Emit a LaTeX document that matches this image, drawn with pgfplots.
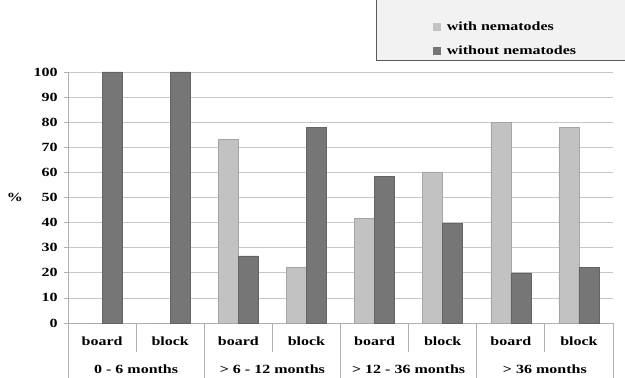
\documentclass[border=0pt]{standalone}
\usepackage{pgfplots}
\pgfplotsset{compat=1.18}
\usepackage{fontspec}
\setmainfont{Liberation Serif}[FakeStretch=1.28]
\definecolor{lightbar}{HTML}{C2C2C2}
\definecolor{darkbar}{HTML}{767676}
\definecolor{gridc}{HTML}{C8C8C8}
\definecolor{axc}{HTML}{B0B0B0}
\begin{document}
\fontsize{12.5bp}{15bp}\selectfont\bfseries
\begin{tikzpicture}
\begin{axis}[
  at={(0,0)}, anchor=south west,
  scale only axis, width=545bp, height=251bp,
  xmin=-0.5, xmax=7.5, ymin=0, ymax=100,
  ybar=0pt, bar width=20bp,
  xtick={0,...,7},
  xticklabels={board,block,board,block,board,block,board,block},
  xtick style={draw=none},
  xticklabel style={yshift=-5bp},
  yticklabel style={xshift=-2bp},
  ytick={0,10,...,100},
  ymajorgrids, grid style={gridc, line width=0.8pt},
  separate axis lines,
  axis x line*=bottom, axis y line*=left,
  x axis line style={-, axc, line width=0.8pt},
  y axis line style={-, axc, line width=0.8pt},
  ytick style={axc, line width=0.8pt},
  tick align=outside, major tick length=4bp,
  /pgf/number format/assume math mode=true,
  tick label style={font=\fontsize{12.5bp}{15bp}\selectfont\bfseries},
  legend style={draw=none, fill=none, at={(rel axis cs:0.67,1.207)}, anchor=north west,
    font=\fontsize{12.5bp}{15bp}\selectfont\bfseries, row sep=9bp, inner sep=0pt},
  legend cell align=left,
  clip=false,
]
\fill[fill=black!5, draw=black!65, line width=0.8pt] (rel axis cs:0.565,1.048) rectangle (rel axis cs:1.2,1.5);
\addplot[draw=lightbar!85!black, line width=0.5pt, fill=lightbar,
  legend image code/.code={\fill[lightbar] (0.5bp,-3bp) rectangle (7.5bp,4bp);}]
  coordinates {(0,0) (1,0) (2,73.3) (3,22.2) (4,41.7) (5,60.2) (6,80) (7,77.8)};
\addplot[draw=darkbar!85!black, line width=0.5pt, fill=darkbar,
  legend image code/.code={\fill[darkbar] (0.5bp,-3bp) rectangle (7.5bp,4bp);}]
  coordinates {(0,100) (1,100) (2,26.7) (3,77.8) (4,58.3) (5,39.8) (6,20) (7,22.2)};
\legend{\ with nematodes,\ without nematodes}
\pgfplotsinvokeforeach{0.5,2.5,4.5,6.5}{\draw[axc, line width=0.8pt] (axis cs:#1,0) -- ++(0pt,-29bp);}
\pgfplotsinvokeforeach{-0.5,1.5,3.5,5.5,7.5}{\draw[axc, line width=0.8pt] (axis cs:#1,0) -- ++(0pt,-56bp);}
\node at (axis cs:0.5,0) [yshift=-46bp] {0 - 6 months};
\node at (axis cs:2.5,0) [yshift=-46bp] {> 6 - 12 months};
\node at (axis cs:4.5,0) [yshift=-46bp] {> 12 - 36 months};
\node at (axis cs:6.5,0) [yshift=-46bp] {> 36 months};
\node at (rel axis cs:0,0.5) [xshift=-53bp] {\%};
\end{axis}
\pgfresetboundingbox
\path (-68bp,-55bp) rectangle (557bp,323bp);
\end{tikzpicture}
\end{document}
